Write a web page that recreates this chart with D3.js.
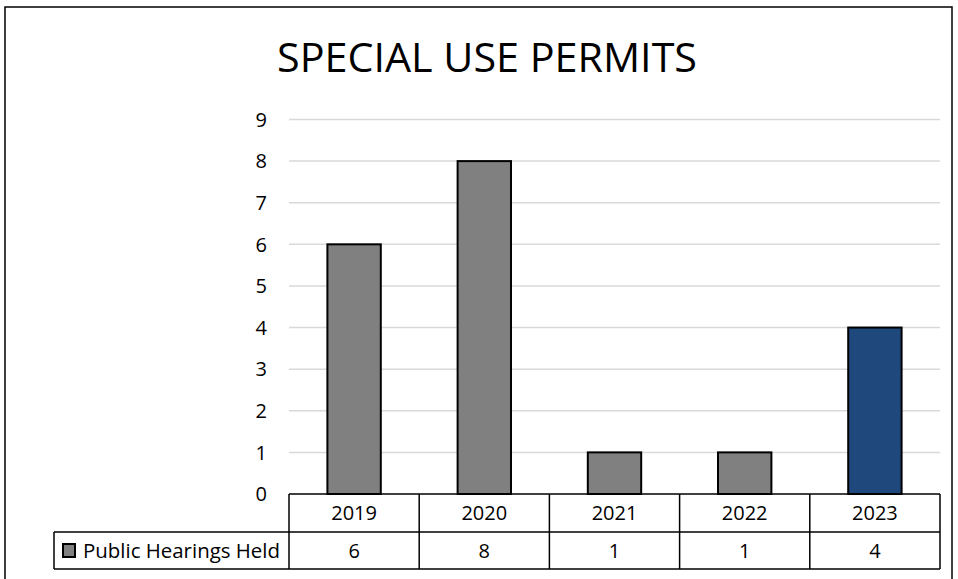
<!DOCTYPE html>
<meta charset="utf-8">
<style>
    body { margin: 0; background: #fff; }
    text { font-family: "Open Sans", "Noto Sans", sans-serif; fill: #000; }
    .grid line { stroke: #d9d9d9; stroke-width: 1.5; }
    .bar { stroke: #000; stroke-width: 2; }
    .tbl line { stroke: #000; stroke-width: 1.5; }
</style>
<body>
<script src="https://d3js.org/d3.v7.min.js"></script>
<script>
// chart data
var years = ["2019", "2020", "2021", "2022", "2023"];
var hearings = [6, 8, 1, 1, 4];
var barColors = ["#808080", "#808080", "#808080", "#808080", "#1f497d"];
var yTicks = [0, 1, 2, 3, 4, 5, 6, 7, 8, 9];
var seriesName = "Public Hearings Held";
var title = "SPECIAL USE PERMITS";

var W = 958, H = 579;
var svg = d3.select("body").append("svg")
    .attr("width", W)
    .attr("height", H);

// outer chart border
svg.append("rect")
    .attr("x", 5).attr("y", 7)
    .attr("width", 947).attr("height", 600)
    .attr("fill", "none").attr("stroke", "#000").attr("stroke-width", 1.5);

var x = d3.scaleBand()
    .domain(years)
    .range([289, 940])
    .paddingInner(0.59)
    .paddingOuter(0.295);

var xCell = d3.scaleBand().domain(years).range([289, 940]);

var y = d3.scaleLinear()
    .domain([0, 9])
    .range([494, 119.5]);

// title
svg.append("text")
    .attr("x", 487).attr("y", 72)
    .attr("text-anchor", "middle")
    .attr("font-size", 40)
    .attr("textLength", 420)
    .attr("lengthAdjust", "spacingAndGlyphs")
    .text(title);

// gridlines
svg.append("g").attr("class", "grid")
    .selectAll("line")
    .data(yTicks.filter(d => d > 0))
    .enter().append("line")
    .attr("x1", 289).attr("x2", 940)
    .attr("y1", d => y(d)).attr("y2", d => y(d));

// y axis labels
svg.append("g")
    .selectAll("text")
    .data(yTicks)
    .enter().append("text")
    .attr("x", 267)
    .attr("y", d => y(d))
    .attr("dy", "0.36em")
    .attr("text-anchor", "end")
    .attr("font-size", 20)
    .text(d => d);

// bars
svg.selectAll(".bar")
    .data(hearings)
    .enter().append("rect")
    .attr("class", "bar")
    .attr("x", (d, i) => x(years[i]))
    .attr("y", d => y(d))
    .attr("width", x.bandwidth())
    .attr("height", d => y(0) - y(d))
    .attr("fill", (d, i) => barColors[i]);

// data table
var tbl = svg.append("g").attr("class", "tbl");
var r0 = 494, r1 = 532, r2 = 569, left = 54;
tbl.append("line").attr("x1", 289).attr("x2", 940).attr("y1", r0).attr("y2", r0);
tbl.append("line").attr("x1", left).attr("x2", 940).attr("y1", r1).attr("y2", r1);
tbl.append("line").attr("x1", left).attr("x2", 940).attr("y1", r2).attr("y2", r2);
tbl.append("line").attr("x1", left).attr("x2", left).attr("y1", r1).attr("y2", r2);
tbl.selectAll(".v")
    .data(years)
    .enter().append("line")
    .attr("x1", d => xCell(d)).attr("x2", d => xCell(d))
    .attr("y1", r0).attr("y2", r2);
tbl.append("line").attr("x1", 940).attr("x2", 940).attr("y1", r0).attr("y2", r2);

svg.selectAll(".yr")
    .data(years)
    .enter().append("text")
    .attr("x", d => xCell(d) + xCell.bandwidth() / 2)
    .attr("y", (r0 + r1) / 2)
    .attr("dy", "0.36em")
    .attr("text-anchor", "middle")
    .attr("font-size", 20)
    .text(d => d);

svg.selectAll(".val")
    .data(hearings)
    .enter().append("text")
    .attr("x", (d, i) => xCell(years[i]) + xCell.bandwidth() / 2)
    .attr("y", (r1 + r2) / 2)
    .attr("dy", "0.36em")
    .attr("text-anchor", "middle")
    .attr("font-size", 20)
    .text(d => d);

// legend key
svg.append("rect")
    .attr("x", 63).attr("y", 544)
    .attr("width", 12).attr("height", 13)
    .attr("fill", barColors[0]).attr("stroke", "#000").attr("stroke-width", 2);
svg.append("text")
    .attr("x", 83).attr("y", (r1 + r2) / 2)
    .attr("dy", "0.36em")
    .attr("font-size", 20)
    .attr("textLength", 197)
    .attr("lengthAdjust", "spacingAndGlyphs")
    .text(seriesName);
</script>
</body>
